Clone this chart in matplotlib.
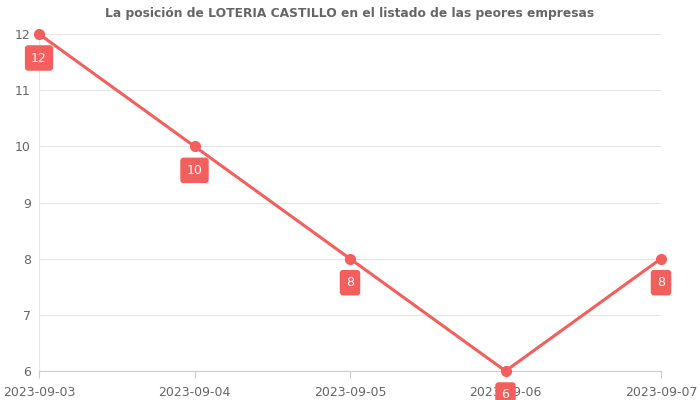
import matplotlib.pyplot as plt

dates = ["2023-09-03", "2023-09-04", "2023-09-05", "2023-09-06", "2023-09-07"]
positions = [12, 10, 8, 6, 8]
yticks = [6, 7, 8, 9, 10, 11, 12]

color = "#f25f5c"
fig = plt.figure(figsize=(7, 4), dpi=100)
ax = fig.add_axes([39 / 700, 1 - 371 / 400, 622 / 700, 337 / 400])

x = list(range(len(dates)))
ax.plot(x, positions, color=color, linewidth=2.2, marker="o", markersize=7, zorder=3, clip_on=False)
for xi, v in zip(x, positions):
    ax.annotate(str(v), (xi, v), xytext=(0, -24), textcoords="offset pixels",
                ha="center", va="center", color="white", fontsize=9,
                bbox=dict(boxstyle="round,pad=0.5,rounding_size=0.25", fc=color, ec="none"),
                zorder=4, annotation_clip=False)

ax.set_xlim(0, len(dates) - 1)
ax.set_ylim(6, 12)
ax.set_xticks(x)
ax.set_xticklabels(dates)
ax.set_yticks(yticks)
ax.grid(axis="y", color="#e6e6e6", linewidth=0.8)
ax.set_axisbelow(True)
for s in ["top", "right"]:
    ax.spines[s].set_visible(False)
ax.spines["left"].set_color("#e6e6e6")
ax.spines["bottom"].set_color("#cccccc")
ax.tick_params(colors="#666666", labelsize=9, length=0, pad=6)
ax.tick_params(axis="x", length=5, color="#cccccc")
ax.set_title("La posición de LOTERIA CASTILLO en el listado de las peores empresas",
             fontsize=8.8, fontweight="bold", color="#666666", pad=12)

fig.savefig("out.png", dpi=100)
